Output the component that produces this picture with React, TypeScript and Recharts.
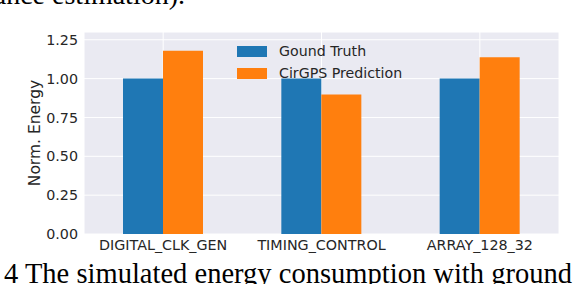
import React from 'react';
import { BarChart, Bar, XAxis, YAxis, CartesianGrid, Legend } from 'recharts';

const categories = ['DIGITAL_CLK_GEN', 'TIMING_CONTROL', 'ARRAY_128_32'];
const seriesNames = ['Gound Truth', 'CirGPS Prediction'];
const groundTruth = [1.0, 1.0, 1.0];
const prediction = [1.18, 0.897, 1.137];
const yTicks = [0, 0.25, 0.5, 0.75, 1.0, 1.25];

const FONT = '"DejaVu Sans", sans-serif';
const TEXT = '#262626';

const chartData = categories.map((name, i) => ({
    name,
    gt: groundTruth[i],
    pred: prediction[i],
}));

const renderLegend = (props: any) => {
    const items = [...(props.payload || [])].sort(
        (a: any, b: any) => seriesNames.indexOf(a.value) - seriesNames.indexOf(b.value)
    );
    return (
        <div style={{ fontFamily: FONT, fontSize: 14.2, color: TEXT }}>
            {items.map((e: any) => (
                <div key={e.value} style={{ display: 'flex', alignItems: 'center', height: 22 }}>
                    <span style={{ display: 'inline-block', width: 30, height: 11, background: e.color, marginRight: 12 }} />
                    <span>{e.value}</span>
                </div>
            ))}
        </div>
    );
};

const YLabel = (props: any) => {
    const vb = props.viewBox || {};
    const cy = (vb.y || 0) + (vb.height || 0) / 2;
    const cx = 35;
    return (
        <text
            x={cx}
            y={cy}
            transform={`rotate(-90 ${cx} ${cy})`}
            textAnchor="middle"
            dominantBaseline="central"
            fill={TEXT}
            fontSize={15.5}
            fontFamily={FONT}
        >
            Norm. Energy
        </text>
    );
};

export default function App() {
    return (
        <div style={{ position: 'absolute', left: 0, top: 0, width: 574, height: 284, overflow: 'hidden', background: '#fff' }}>
            <BarChart
                width={574}
                height={284}
                data={chartData}
                margin={{ top: 32, right: 15, bottom: 20, left: 0 }}
                barGap={0}
            >
                <CartesianGrid fill="#eaeaf2" stroke="#ffffff" strokeWidth={1} />
                <XAxis
                    dataKey="name"
                    axisLine={false}
                    tickLine={false}
                    tickSize={6}
                    tickMargin={0}
                    interval={0}
                    height={30}
                    tick={{ fill: TEXT, fontSize: 14.3, fontFamily: FONT }}
                />
                <YAxis
                    domain={[0, 1.3]}
                    ticks={yTicks}
                    width={84}
                    axisLine={false}
                    tickLine={false}
                    tickSize={6}
                    tickMargin={0}
                    tickFormatter={(v: number) => v.toFixed(2)}
                    tick={{ fill: TEXT, fontSize: 14.3, fontFamily: FONT }}
                    label={<YLabel />}
                />
                <Legend
                    layout="vertical"
                    align="center"
                    verticalAlign="middle"
                    content={renderLegend}
                    wrapperStyle={{ left: 237, top: 40, width: 'auto' }}
                />
                <Bar dataKey="gt" name={seriesNames[0]} fill="#1f77b4" barSize={40} isAnimationActive={false} />
                <Bar dataKey="pred" name={seriesNames[1]} fill="#ff7f0e" barSize={40} isAnimationActive={false} />
            </BarChart>
            <svg width={574} height={284} style={{ position: 'absolute', left: 0, top: 0, pointerEvents: 'none' }}>
                <text x={185} y={4} textAnchor="end" fontFamily='"Liberation Serif", serif' fontSize={28} fill="#000">
                    performance estimation).
                </text>
                <text x={4} y={283} textLength={568} fontFamily='"Liberation Serif", serif' fontSize={28.5} fill="#000">
                    4 The simulated energy consumption with ground
                </text>
            </svg>
        </div>
    );
}
